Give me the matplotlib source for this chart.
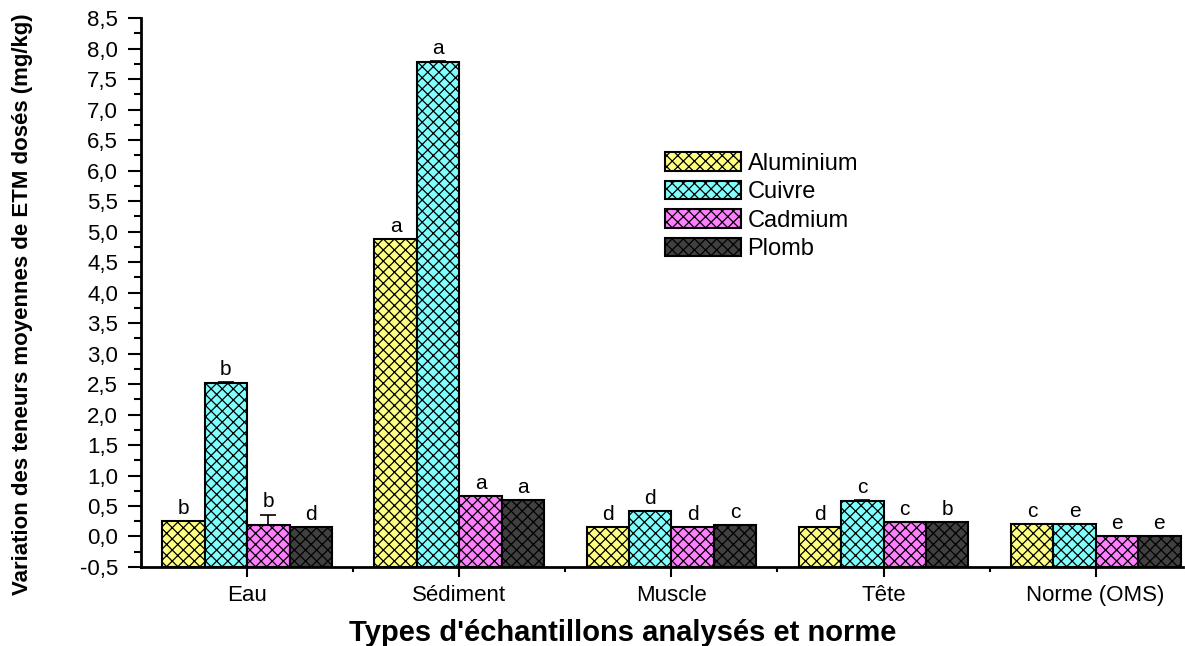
import numpy as np
import matplotlib.pyplot as plt
from matplotlib.patches import Patch
from matplotlib.ticker import MultipleLocator, FuncFormatter

# Données
categories = ["Eau", "Sédiment", "Muscle", "Tête", "Norme (OMS)"]
metaux = ["Aluminium", "Cuivre", "Cadmium", "Plomb"]

aluminium = [0.26, 4.87, 0.16, 0.16, 0.20]
cuivre = [2.52, 7.78, 0.41, 0.59, 0.20]
cadmium = [0.19, 0.66, 0.16, 0.23, 0.003]
plomb = [0.16, 0.60, 0.19, 0.24, 0.01]

err_al = [0.0, 0.01, 0.0, 0.0, 0.0]
err_cu = [0.02, 0.01, 0.01, 0.01, 0.0]
err_cd = [0.17, 0.0, 0.0, 0.01, 0.0]
err_pb = [0.0, 0.0, 0.0, 0.0, 0.0]

lettres_al = ["b", "a", "d", "d", "c"]
lettres_cu = ["b", "a", "d", "c", "e"]
lettres_cd = ["b", "a", "d", "c", "e"]
lettres_pb = ["d", "a", "c", "b", "e"]

couleurs = ["#FFFF80", "#80FFFF", "#FF80FF", "#404040"]

series = [aluminium, cuivre, cadmium, plomb]
erreurs = [err_al, err_cu, err_cd, err_pb]
lettres = [lettres_al, lettres_cu, lettres_cd, lettres_pb]

plt.rcParams['font.family'] = ['Liberation Sans', 'DejaVu Sans']
plt.rcParams['hatch.linewidth'] = 0.9

fig = plt.figure(figsize=(11.85, 6.46), dpi=100)
ax = fig.add_axes([0.119, 0.1223, 0.879, 0.8497])

x = np.arange(len(categories))
largeur = 0.2
bas = -0.5

for i, (vals, errs, lets) in enumerate(zip(series, erreurs, lettres)):
    pos = x + (i - 1.5) * largeur
    hauteurs = np.array(vals) - bas
    ax.bar(pos, hauteurs, largeur, bottom=bas, color=couleurs[i],
           edgecolor="black", linewidth=1.5, hatch="xxx", zorder=2)
    ax.errorbar(pos, vals, yerr=[np.zeros(len(errs)), errs], fmt="none",
                ecolor="black", elinewidth=1.2, capsize=6, capthick=1.2, zorder=3)
    for p, v, e, l in zip(pos, vals, errs, lets):
        ax.text(p, v + e + 0.05, l, ha="center", va="bottom", fontsize=15)

ax.set_xlim(-0.5, 4.41)
ax.set_ylim(-0.5, 8.5)
ax.set_xticks(x)
ax.set_xticklabels(categories, fontsize=16)
ax.set_xticks(x[:-1] + 0.5, minor=True)
ax.yaxis.set_major_locator(MultipleLocator(0.5))
ax.yaxis.set_minor_locator(MultipleLocator(0.25))
ax.yaxis.set_major_formatter(FuncFormatter(lambda v, p: f"{v:.1f}".replace(".", ",")))
ax.tick_params(axis="y", which="major", length=9.5, width=1.5, labelsize=16, pad=7)
ax.tick_params(axis="y", which="minor", length=5, width=1.5)
ax.tick_params(axis="x", which="major", length=7, width=1.5, labelsize=16, pad=6)
ax.tick_params(axis="x", which="minor", length=3.5, width=1.5)

for s in ["top", "right"]:
    ax.spines[s].set_visible(False)
for s in ["left", "bottom"]:
    ax.spines[s].set_linewidth(2)

ax.set_ylabel("Variation des teneurs moyennes de ETM dosés (mg/kg)",
              fontsize=16, fontweight="bold")
ax.yaxis.set_label_coords(-0.104, 0.479)
ax.set_xlabel("Types d'échantillons analysés et norme", fontsize=21,
              fontweight="bold")
ax.xaxis.set_label_coords(0.4626, -0.095)

poignees = [Patch(facecolor=c, edgecolor="black", hatch="xxx", linewidth=1.5)
            for c in couleurs]
ax.legend(poignees, metaux, loc="upper left", bbox_to_anchor=(0.503, 0.756),
          frameon=False, fontsize=17, handlelength=3.2, handleheight=0.85,
          labelspacing=0.25, handletextpad=0.3, borderpad=0, borderaxespad=0)

plt.savefig("out.png", dpi=100)
